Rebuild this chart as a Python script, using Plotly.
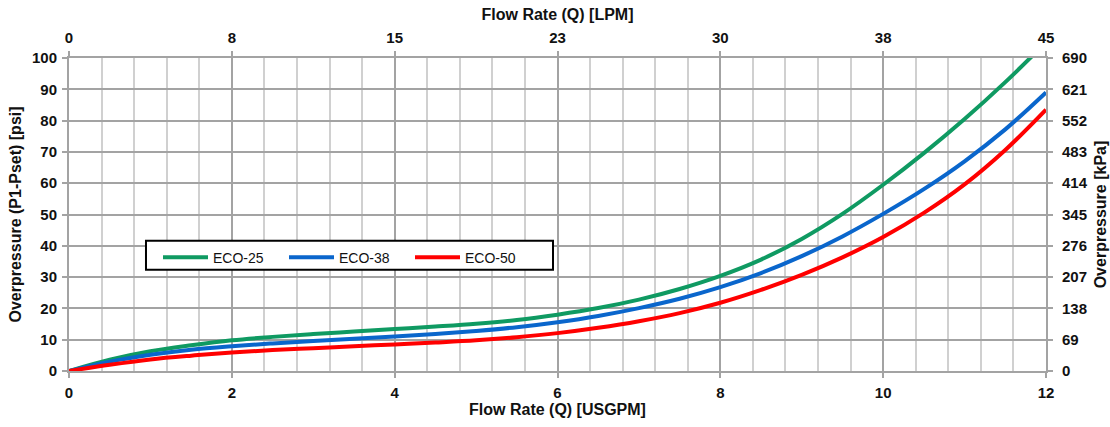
import plotly.graph_objects as go

# Data
flow_usgpm = [0, 0.5, 1, 1.5, 2, 2.5, 3, 3.5, 4, 4.5, 5, 5.5, 6, 6.5, 7, 7.5, 8, 8.5, 9, 9.5, 10, 10.5, 11, 11.5, 12]
eco25 = [0, 3.6, 6.3, 8.2, 9.8, 10.9, 11.8, 12.6, 13.4, 14.2, 15.1, 16.3, 18.0, 20.1, 22.8, 26.2, 30.4, 35.6, 42.2, 50.2, 59.5, 69.6, 80.5, 92.3, 105]
eco38 = [0, 3.0, 5.2, 6.8, 7.9, 8.8, 9.6, 10.3, 11.0, 11.8, 12.8, 14.0, 15.6, 17.6, 20.1, 23.1, 26.8, 31.3, 36.7, 43.0, 50.2, 58.1, 67.0, 77.2, 89.0]
eco50 = [0, 2.0, 3.7, 4.9, 5.9, 6.7, 7.3, 7.9, 8.5, 9.1, 9.8, 10.8, 12.1, 13.8, 15.9, 18.5, 21.8, 25.9, 30.7, 36.3, 42.8, 50.5, 59.6, 70.6, 83.5]

series_names = ["ECO-25", "ECO-38", "ECO-50"]
series_colors = ["#0f9a62", "#0a66cc", "#ff0000"]

usgpm_ticks = [0, 2, 4, 6, 8, 10, 12]
lpm_labels = ["0", "8", "15", "23", "30", "38", "45"]
psi_ticks = [0, 10, 20, 30, 40, 50, 60, 70, 80, 90, 100]
kpa_labels = ["0", "69", "138", "207", "276", "345", "414", "483", "552", "621", "690"]

FONT = "Liberation Sans, Arial, sans-serif"
major = "#a3a3a3"
minor = "#d0d0d0"

fig = go.Figure()
for name, ys, col in zip(series_names, [eco25, eco38, eco50], series_colors):
    fig.add_trace(go.Scatter(x=flow_usgpm, y=ys, name=name, mode="lines",
                             line=dict(color=col, width=4, shape="spline"),
                             hoverinfo="skip"))

# invisible trace to activate secondary axes
fig.add_trace(go.Scatter(x=[usgpm_ticks[0], usgpm_ticks[-1]], y=[psi_ticks[0], psi_ticks[-1]],
                         xaxis="x2", yaxis="y2", mode="markers",
                         marker=dict(opacity=0), showlegend=False, hoverinfo="skip"))

tickfont = dict(family=FONT, size=15, color="#111111", weight="bold")
titlefont = dict(family=FONT, size=16, color="#111111", weight="bold")

axis_common = dict(showline=True, linecolor=major, linewidth=2,
                   ticks="outside", ticklen=5, tickcolor=major, tickwidth=2,
                   tickfont=tickfont, zeroline=False, automargin=False)

fig.update_layout(
    width=1110, height=427,
    margin=dict(l=69, r=64, t=58, b=56),
    paper_bgcolor="white", plot_bgcolor="white",
    font=dict(family=FONT),
    xaxis=dict(range=[0, 12], tickvals=usgpm_ticks, ticktext=[str(v) for v in usgpm_ticks],
               showgrid=True, gridcolor=major, gridwidth=2,
               minor=dict(dtick=0.4, showgrid=True, gridcolor=minor, gridwidth=2, ticks=""),
               ticklabelstandoff=2,
               title=dict(text="Flow Rate (Q) [USGPM]", font=titlefont, standoff=4),
               **axis_common),
    xaxis2=dict(range=[0, 12], overlaying="x", side="top", anchor="y",
                tickvals=usgpm_ticks, ticktext=lpm_labels, showgrid=False,
                ticklabelstandoff=2,
                title=dict(text="Flow Rate (Q) [LPM]", font=titlefont, standoff=4),
                **axis_common),
    yaxis=dict(range=[0, 100], tickvals=psi_ticks, ticktext=[str(v) for v in psi_ticks],
               showgrid=True, gridcolor=major, gridwidth=2,
               ticklabelstandoff=2,
               title=dict(text="Overpressure (P1-Pset) [psi]", font=titlefont, standoff=6),
               **axis_common),
    yaxis2=dict(range=[0, 100], overlaying="y", side="right", anchor="x",
                tickvals=psi_ticks, ticktext=kpa_labels, showgrid=False,
                ticklabelstandoff=6,
                title=dict(text="Overpressure [kPa]", font=titlefont, standoff=8),
                **axis_common),
    legend=dict(orientation="h", x=0.0911, xanchor="left", y=0.413, yanchor="top",
                bgcolor="rgba(0,0,0,0)", borderwidth=0,
                font=dict(family=FONT, size=14, color="#111111"),
                itemwidth=45, entrywidth=66, entrywidthmode="pixels", tracegroupgap=0),
    shapes=[dict(type="rect", xref="paper", yref="paper",
                 x0=0.0788, x1=0.4954, y0=0.3238, y1=0.4163,
                 fillcolor="white", line=dict(color="black", width=2), layer="above")],
    showlegend=True,
)

fig.write_html("out.html")
